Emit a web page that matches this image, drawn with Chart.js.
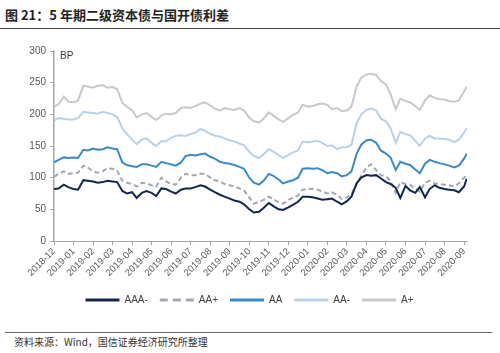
<!DOCTYPE html>
<html><head><meta charset="utf-8">
<script src="https://cdn.jsdelivr.net/npm/chart.js@4"></script>
<style>
body{margin:0;width:500px;height:353px;background:#fff;position:relative;overflow:hidden;font-family:"Noto Sans CJK SC",sans-serif}
#title{position:absolute;left:5px;top:5px;font-size:13px;font-weight:bold;color:#222;line-height:20px;white-space:nowrap}
#rule1{position:absolute;left:0;top:28px;width:500px;height:1px;background:#444}
#wrap{position:absolute;left:0;top:30px;width:500px;height:295px}
#rule2{position:absolute;left:5px;top:332px;width:487px;height:1px;background:#666}
#src{position:absolute;left:14px;top:334px;font-size:10px;color:#333;line-height:16px;white-space:nowrap}
</style></head>
<body>
<div id="title">图 21：5 年期二级资本债与国开债利差</div>
<div id="rule1"></div>
<div id="wrap"><canvas id="c" width="500" height="295"></canvas></div>
<div id="rule2"></div>
<div id="src">资料来源：Wind，国信证券经济研究所整理</div>
<script>
const monthLabels = ['2018-12','2019-01','2019-02','2019-03','2019-04','2019-05','2019-06','2019-07','2019-08','2019-09','2019-10','2019-11','2019-12','2020-01','2020-02','2020-03','2020-04','2020-05','2020-06','2020-07','2020-08','2020-09'];
const seriesNames = ['AAA-','AA+','AA','AA-','A+'];
const obsDays = [1,8,16,23];
const obsDates = [];
monthLabels.slice(0,-1).forEach(m => obsDays.forEach(d => obsDates.push(m + '-' + String(d).padStart(2,'0'))));
obsDates.push('2020-09-01','2020-09-05');

const seriesAAAm = [82,83,89,85, 82,81,96,95, 94,92,93,95, 94,93,79,75, 77,68,76,79, 76,71,83,82, 78,75,81,83, 83,85,88,86, 81,77,73,70, 67,64,62,58, 50,45,46,52, 60,55,50,49, 53,57,62,70, 70,69,67,65, 66,67,62,58, 63,70,91,100, 104,103,104,99, 93,90,84,68, 87,80,76,85, 69,82,88,84, 82,81,80,77, 86,98];
const seriesAAp = [101,106,110,106, 107,108,119,116, 110,108,110,115, 114,111,95,92, 90,86,92,91, 88,86,100,94, 90,89,100,106, 104,104,106,106, 100,96,94,90, 88,86,83,80, 69,59,62,65, 70,66,61,59, 65,68,72,81, 82,82,81,78, 75,77,73,66, 69,74,91,103, 116,121,112,104, 102,95,76,93, 90,89,83,78, 92,95,91,90, 89,88,86,91, 100,104];
const seriesAA = [124,128,132,131, 132,131,144,143, 146,144,145,148, 146,145,124,120, 118,117,121,121, 119,117,125,123, 121,119,124,134, 136,135,137,138, 133,130,125,123, 122,120,117,114, 100,92,89,95, 106,103,97,91, 94,96,100,114, 115,114,115,112, 107,109,107,102, 104,110,138,152, 159,160,155,143, 138,132,112,125, 122,120,113,107, 122,128,125,123, 121,119,116,119, 130,138];
const seriesAAm = [190,194,193,192, 192,194,204,203, 202,201,204,202, 200,196,178,169, 160,153,160,162, 155,150,158,157, 163,166,167,166, 169,171,177,174, 169,166,165,162, 159,157,154,151, 141,134,131,137, 145,141,136,131, 136,140,143,157, 156,157,158,155, 150,151,145,148, 148,152,186,200, 207,209,206,193, 189,178,155,172, 169,167,158,150, 162,166,162,162, 161,160,156,160, 171,178];
const seriesAp = [212,216,228,220, 219,222,245,244, 242,245,246,242, 243,240,218,212, 206,195,200,202, 196,191,198,201, 200,202,210,211, 210,213,217,219, 214,209,206,210, 208,207,210,206, 195,189,187,193, 203,198,192,188, 194,199,203,215, 212,213,216,217, 215,208,210,205, 206,212,244,258, 263,264,262,253, 247,232,208,225, 221,219,213,207, 222,230,226,224, 223,221,220,222, 236,244];

function monthPos(s){
  const [y,m,d] = s.split('-').map(Number);
  return (y-2018)*12 + (m-12) + (d-1)/30;
}
const xs = obsDates.map(monthPos);
const toPts = arr => arr.map((v,i) => ({x: xs[i], y: v}));

const styles = [
  {color:'#13274a', dash:[]},
  {color:'#a3a8b3', dash:[5,3]},
  {color:'#3b8ac4', dash:[]},
  {color:'#bad1e8', dash:[]},
  {color:'#c9c9c9', dash:[]}
];
const allSeries = [seriesAAAm, seriesAAp, seriesAA, seriesAAm, seriesAp];

const bpLabel = {
  id:'bpLabel',
  afterLayout(chart){
    if (chart.legend) { chart.legend.left += 16; chart.legend.right += 16; }
  },
  afterDraw(chart){
    const {ctx, chartArea} = chart;
    ctx.save();
    ctx.font = '10px "Liberation Sans", Arial, sans-serif';
    ctx.fillStyle = '#404040';
    ctx.textBaseline = 'middle';
    ctx.fillText('BP', chartArea.left + 6, chartArea.top + 5);
    ctx.restore();
  }
};

new Chart(document.getElementById('c'), {
  type:'line',
  data:{
    datasets: allSeries.map((s,i) => ({
      label: seriesNames[i],
      data: toPts(s),
      borderColor: styles[i].color,
      backgroundColor: styles[i].color,
      borderDash: styles[i].dash,
      borderWidth: 2,
      pointRadius: 0,
      tension: 0,
      fill: false
    }))
  },
  options:{
    responsive:false,
    animation:false,
    devicePixelRatio:1,
    layout:{padding:{top:21,right:33,bottom:10,left:0}},
    plugins:{
      tooltip:{enabled:false},
      legend:{
        position:'bottom',
        labels:{
          usePointStyle:true,
          pointStyle:'line',
          pointStyleWidth:34,
          boxHeight:10,
          padding:12,
          color:'#404040',
          font:{size:10, family:'"Liberation Sans", Arial, sans-serif'},
          generateLabels(chart){
            const items = Chart.defaults.plugins.legend.labels.generateLabels(chart);
            items.forEach((it,i) => { it.lineWidth = 3; it.lineDash = i===1 ? [8,5] : []; it.pointStyle = 'line'; });
            return items;
          }
        }
      }
    },
    scales:{
      x:{
        type:'linear',
        min:0,
        max:21.15,
        afterFit(scale){ scale.height = 42; },
        border:{color:'#a6a6a6', width:1},
        grid:{display:true, drawOnChartArea:false, tickLength:4, color:'#a6a6a6'},
        ticks:{
          stepSize:1,
          includeBounds:false,
          autoSkip:false,
          maxRotation:45,
          minRotation:45,
          padding:1,
          color:'#595959',
          font:{size:9.5, family:'"Liberation Sans", Arial, sans-serif'},
          callback:(v) => Number.isInteger(v) ? monthLabels[v] : ''
        }
      },
      y:{
        min:0,
        max:300,
        afterFit(scale){ scale.width = 54; },
        border:{color:'#a6a6a6', width:1.5},
        grid:{display:true, drawOnChartArea:false, tickLength:4, color:'#a6a6a6'},
        ticks:{
          stepSize:50,
          padding:4,
          color:'#595959',
          font:{size:10, family:'"Liberation Sans", Arial, sans-serif'}
        }
      }
    }
  },
  plugins:[bpLabel]
});
</script>
</body></html>
